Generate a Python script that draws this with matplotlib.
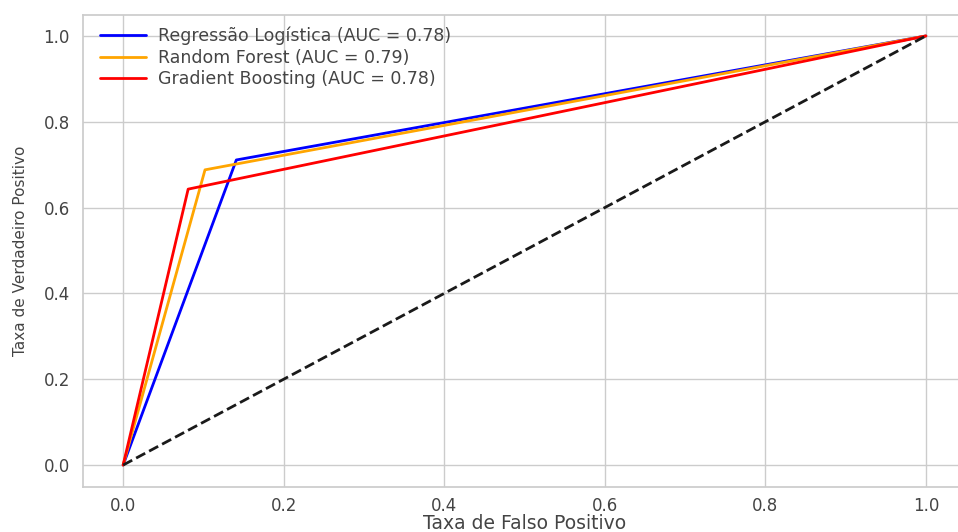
import matplotlib
matplotlib.use("Agg")
import matplotlib.pyplot as plt
import seaborn as sns

sns.set_theme(style="whitegrid")
plt.rcParams['font.family'] = ['DejaVu Sans']

models = ["Regressão Logística", "Random Forest", "Gradient Boosting"]
aucs = [0.78, 0.79, 0.78]
fpr = [[0.0, 0.141, 1.0], [0.0, 0.102, 1.0], [0.0, 0.081, 1.0]]
tpr = [[0.0, 0.711, 1.0], [0.0, 0.688, 1.0], [0.0, 0.643, 1.0]]
colors = ["blue", "orange", "red"]

fig = plt.figure(figsize=(9.58, 5.32), dpi=100)
ax = fig.add_axes([83/958, 1 - 486.5/532, (966-83)/958, (486.5-14.5)/532])
for m, a, fx, ty, c in zip(models, aucs, fpr, tpr, colors):
    ax.plot(fx, ty, color=c, lw=2, label=f"{m} (AUC = {a:.2f})")
ax.plot([0, 1], [0, 1], 'k--', lw=2)
ax.set_xlim(-0.05, 1.05)
ax.set_ylim(-0.05, 1.05)
ax.set_xlabel("Taxa de Falso Positivo", fontsize=13.5, color="#444444", labelpad=-0.5)
ax.set_ylabel("Taxa de Verdadeiro Positivo", fontsize=11, color="#444444")
ax.yaxis.set_label_coords(-0.062, 0.5)
ax.tick_params(labelsize=12, labelcolor="#444444")
ax.tick_params(axis="x", pad=1.5)
ax.legend(loc="upper left", frameon=False, fontsize=12.5, labelspacing=0.2,
          handlelength=2.6, handletextpad=0.7,
          bbox_to_anchor=(0.008, 0.996), borderaxespad=0.2,
          labelcolor="#444444")
fig.savefig("out.png", dpi=100)
